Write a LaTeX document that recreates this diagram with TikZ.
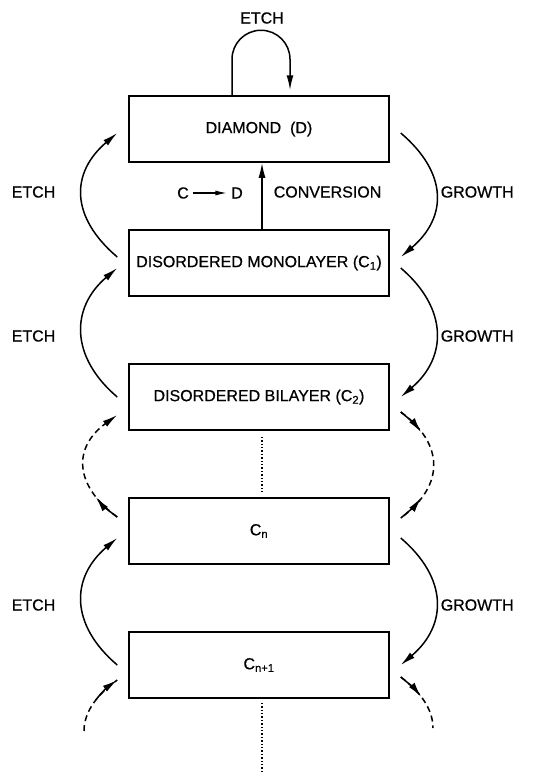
\documentclass[tikz,border=0pt]{standalone}
\usepackage{fontspec}
\setmainfont{Liberation Sans}[FakeBold=0.6]
\usetikzlibrary{arrows.meta,positioning,calc}
\begin{document}
\begin{tikzpicture}[x=1pt,y=-1pt,line width=1.5pt,font=\fontsize{16}{19}\selectfont]
	\tikzstyle{layer}=[draw,minimum width=260pt,minimum height=66pt,inner sep=2pt]
	\tikzstyle{lbl}=[inner sep=0pt]
	\tikzstyle{myarrow}=[-{Latex[length=15pt,width=7pt]}]
	\tikzstyle{mydashed}=[dash pattern=on 6pt off 4pt]
	\tikzstyle{mydotted}=[dash pattern=on 1.4pt off 2pt]

	\useasboundingbox (0,0) rectangle (548,774);

	% layers
	\foreach \y/\z/\t in {129/1/{DIAMOND\ \ (D)},263/2/{DISORDERED MONOLAYER (C\textsubscript{1})},397/3/{DISORDERED BILAYER (C\textsubscript{2})},531/4/{C\textsubscript{n}},665/5/{C\textsubscript{n+1}}} { \node[layer] (b\z) at (259,\y) {\t};}

	% side labels
	\foreach \y/\z in {192/1,336/2,605/3} { \node[lbl,anchor=west] (etch\z) at (11,\y) {ETCH}; \node[lbl,anchor=west] (grow\z) at (440,\y) {GROWTH};}
	\node[lbl] (etch0) at (262,18) {ETCH};
	\node[lbl,anchor=west] (conv) at (273,192) {CONVERSION};
	\node[lbl] (cc) at (183,193) {C};
	\node[lbl] (dd) at (237,193) {D};
	\draw[-{Latex[length=12pt,width=5pt]},shorten <=3pt,shorten >=3pt] (cc) -- (dd);

	% etch loop and conversion
	\draw[myarrow] ($(b1.north)+(-27,0)$) -- ++(0,-36) arc[start angle=180,end angle=360,radius=29] -- ($(b1.north)+(31,-5)$);
	\draw[myarrow] ($(b2.north)+(3,0)$) -- ($(b1.south)+(3,0)$);

	% etch / growth arcs
	\foreach \u/\l/\a/\b in {1/2/4/-6,2/3/5/0,4/5/7/0} {
		\draw[myarrow] ($(b\l.west)+(-11,\b)$) .. controls +(-47,-40) and +(-47,40) .. ($(b\u.west)+(-11,\a)$);
		\draw[myarrow] ($(b\u.east)+(11,\a)$) .. controls +(47,40) and +(47,-40) .. ($(b\l.east)+(11,\b)$);
	}

	% dashed arcs between C2 and Cn
	\coordinate (la) at ($(b4.west)+(-11,-14)$);
	\coordinate (lb) at ($(b3.west)+(-11,18)$);
	\draw[mydashed,myarrow] (la) .. controls +(-44,-32) and +(-44,32) .. (lb);
	\draw[myarrow] (la) .. controls (108.2,510.6) and (101.2,504) .. (95.9,497.2);
	\coordinate (ra) at ($(b3.east)+(11,15)$);
	\coordinate (rb) at ($(b4.east)+(11,-13)$);
	\draw[mydashed] (ra) .. controls +(44,32) and +(44,-32) .. (rb);
	\draw[myarrow] (ra) .. controls (408.8,418.4) and (415.8,425.2) .. (421.1,432.2);
	\draw[myarrow] (rb) .. controls (408.8,511.6) and (415.8,504.8) .. (421.1,497.8);

	% dashed arcs below Cn+1
	\coordinate (lc) at ($(b5.west)+(-11,15)$);
	\coordinate (rc) at ($(b5.east)+(11,12)$);
	\draw[mydashed] (84,731) .. controls (84,713.5) and (95,696) .. (lc);
	\draw[myarrow] (95.9,699.8) .. controls (101.2,693) and (108.2,686.4) .. (lc);
	\draw[mydashed] (rc) .. controls (422,693) and (433,710.5) .. (433,728);
	\draw[myarrow] (rc) .. controls (408.8,683.4) and (415.8,690) .. (421.1,696.8);

	% dotted continuations
	\coordinate (bot) at (262,774);
	\draw[mydotted] ($(b3.south)+(3,6)$) -- ($(b4.north)+(3,-5)$);
	\draw[mydotted] ($(b5.south)+(3,4)$) -- (bot);
\end{tikzpicture}
\end{document}
